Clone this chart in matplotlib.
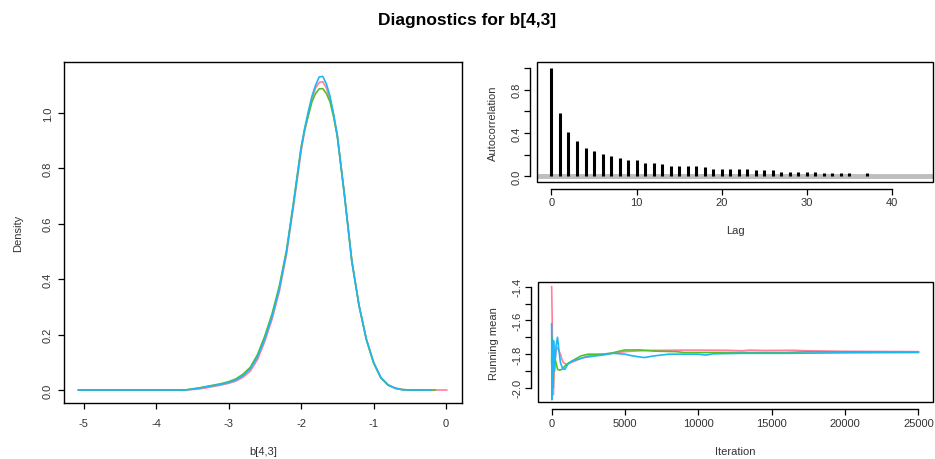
import numpy as np
import matplotlib
matplotlib.use("Agg")
import matplotlib.pyplot as plt
from matplotlib.patches import Rectangle

plt.rcParams['font.family'] = ['Liberation Sans', 'DejaVu Sans']
plt.rcParams['font.size'] = 8
plt.rcParams['axes.unicode_minus'] = False

# ---- data ----
chain_cols = ['#FF7FA0', '#55C022', '#1EB6F5']  # pink, green, blue

# density curves (x grid shared in the middle, own end points)
dens_x = [-5.07, -3.6, -3.5, -3.4, -3.3, -3.2, -3.1, -3.0, -2.9, -2.8, -2.7, -2.6, -2.5, -2.4,
          -2.3, -2.2, -2.1, -2.0, -1.95, -1.9, -1.85, -1.8, -1.75, -1.7, -1.65, -1.6,
          -1.55, -1.5, -1.4, -1.3, -1.2, -1.1, -1.0, -0.9, -0.8, -0.7, -0.6, -0.5]
dens_pink = [0, 0, 0.002, 0.004, 0.008, 0.013, 0.018, 0.024, 0.032, 0.046, 0.068, 0.110, 0.175, 0.255,
             0.355, 0.490, 0.670, 0.860, 0.935, 0.995, 1.050, 1.090, 1.110, 1.113, 1.090, 1.050,
             0.990, 0.920, 0.705, 0.470, 0.305, 0.185, 0.100, 0.046, 0.019, 0.007, 0.002, 0.0]
dens_green = [0, 0, 0.004, 0.008, 0.013, 0.018, 0.023, 0.030, 0.040, 0.057, 0.082, 0.128, 0.195, 0.275,
              0.375, 0.505, 0.685, 0.875, 0.940, 0.990, 1.040, 1.070, 1.087, 1.088, 1.070, 1.040,
              0.985, 0.915, 0.700, 0.465, 0.305, 0.182, 0.098, 0.044, 0.018, 0.006, 0.001, 0.0]
dens_blue = [0, 0, 0.003, 0.007, 0.012, 0.016, 0.021, 0.027, 0.036, 0.052, 0.076, 0.120, 0.185, 0.265,
             0.365, 0.500, 0.680, 0.870, 0.945, 1.005, 1.060, 1.100, 1.130, 1.132, 1.105, 1.060,
             0.995, 0.920, 0.700, 0.465, 0.305, 0.185, 0.100, 0.045, 0.018, 0.006, 0.001, 0.0]
dens_end = [0.01, -0.15, -0.22]  # last x where each chain's curve ends (pink, green, blue)

# autocorrelation
acf_lag = list(range(38))
acf_val = [1.0, 0.58, 0.406, 0.323, 0.258, 0.231, 0.206, 0.191, 0.166, 0.151,
           0.151, 0.126, 0.123, 0.111, 0.098, 0.098, 0.098, 0.098, 0.083, 0.071,
           0.071, 0.071, 0.071, 0.071, 0.058, 0.058, 0.058, 0.043, 0.043, 0.043,
           0.043, 0.043, 0.034, 0.034, 0.034, 0.034, 0.0, 0.03]

# running means
rm_pink_it = [0, 40, 80, 120, 160, 220, 300, 400, 500, 600, 700, 800, 1000, 1300, 1600, 2000,
              2500, 3000, 3500, 4000, 4500, 5000, 6000, 7000, 8000, 9000, 10000, 12000, 13000,
              13500, 14500, 16500, 17500, 20000, 25000]
rm_pink = [-1.40, -1.60, -2.02, -2.04, -1.92, -1.85, -1.78, -1.76, -1.78, -1.80, -1.83, -1.85,
           -1.86, -1.85, -1.84, -1.825, -1.81, -1.805, -1.80, -1.795, -1.79, -1.785, -1.78,
           -1.777, -1.777, -1.776, -1.776, -1.777, -1.78, -1.776, -1.778, -1.777, -1.78,
           -1.783, -1.785]
rm_green_it = [0, 30, 70, 110, 150, 200, 300, 400, 550, 700, 900, 1200, 1600, 2000, 2500, 3000,
               3500, 4000, 4500, 5000, 6000, 6500, 7000, 8500, 9000, 12000, 16000, 17300, 20000,
               25000]
rm_green = [-1.85, -1.70, -1.95, -2.00, -1.80, -1.82, -1.85, -1.89, -1.895, -1.89, -1.87, -1.85,
            -1.83, -1.81, -1.80, -1.80, -1.80, -1.795, -1.785, -1.775, -1.775, -1.778, -1.782,
            -1.785, -1.79, -1.79, -1.79, -1.786, -1.786, -1.788]
rm_blue_it = [0, 20, 50, 90, 130, 200, 300, 400, 500, 600, 750, 900, 1100, 1400, 1800, 2200,
              3000, 3500, 4200, 5000, 5500, 6300, 7000, 8000, 9000, 10000, 10500, 11000, 13000,
              16000, 20000, 25000]
rm_blue = [-1.62, -2.07, -1.80, -1.95, -1.72, -1.90, -1.75, -1.70, -1.78, -1.85, -1.885, -1.89,
           -1.86, -1.84, -1.83, -1.82, -1.81, -1.805, -1.795, -1.80, -1.81, -1.82, -1.81, -1.80,
           -1.80, -1.80, -1.805, -1.798, -1.795, -1.795, -1.792, -1.79]

txt = '#333333'


def r_box(ax, offset=0, xpad=2, ypad=2):
    # R style: full box, axes lines optionally pushed outward
    for s in ax.spines.values():
        s.set_linewidth(1.0)
    if offset:
        for side in ['top', 'right']:
            ax.spines[side].set_visible(False)
        ax.spines['left'].set_position(('outward', offset))
        ax.spines['bottom'].set_position(('outward', offset))
        ax.add_patch(Rectangle((0, 0), 1, 1, transform=ax.transAxes, fill=False,
                               lw=1.0, ec='black', clip_on=False, zorder=5))
    ax.tick_params(direction='out', length=4, width=0.9, colors='black',
                   labelcolor=txt, labelsize=8)
    ax.tick_params(axis='x', pad=xpad)
    ax.tick_params(axis='y', pad=ypad)
    for lab in ax.get_yticklabels():
        lab.set_rotation(90)
        lab.set_va('center')


fig = plt.figure(figsize=(9.35, 4.6), dpi=100)
fig.text(0.5, 0.955, 'Diagnostics for b[4,3]', ha='center', va='center',
         fontsize=12.5, fontweight='bold')

# ---- density ----
ax1 = fig.add_axes([0.0684, 0.1217, 0.4257, 0.7413])
for col, d, xe in zip(chain_cols, [dens_pink, dens_green, dens_blue], dens_end):
    xs = [v for v in dens_x if v < xe] + [xe]
    ys = list(d[:len(xs) - 1]) + [0.0]
    ax1.plot(xs, ys, color=col, lw=1.2)
ax1.set_xlim(-5.27, 0.22)
ax1.set_ylim(-0.047, 1.184)
ax1.set_xticks([-5, -4, -3, -2, -1, 0])
ax1.set_yticks([0, 0.2, 0.4, 0.6, 0.8, 1.0])
ax1.set_yticklabels(['0.0', '0.2', '0.4', '0.6', '0.8', '1.0'])
ax1.set_xlabel('b[4,3]', color=txt, labelpad=13)
ax1.set_ylabel('Density', color=txt, labelpad=14)
r_box(ax1, xpad=7, ypad=4)

# ---- autocorrelation ----
ax2 = fig.add_axes([0.5743, 0.6022, 0.4235, 0.2609])
ax2.axhline(0, color='#BEBEBE', lw=3.5, zorder=1)
ax2.vlines(acf_lag, 0, acf_val, color='black', lw=2.2, zorder=2)
ax2.set_xlim(-1.7, 44.8)
ax2.set_ylim(-0.053, 1.055)
ax2.set_xticks([0, 10, 20, 30, 40])
ax2.set_yticks([0, 0.2, 0.4, 0.6, 0.8, 1.0])
ax2.set_yticklabels(['0.0', '', '0.4', '', '0.8', ''])
ax2.spines['left'].set_bounds(0, 1.0)
ax2.spines['bottom'].set_bounds(0, 40)
ax2.set_xlabel('Lag', color=txt, labelpad=13)
ax2.set_ylabel('Autocorrelation', color=txt, labelpad=10)
r_box(ax2, offset=5)

# ---- running mean ----
ax3 = fig.add_axes([0.5754, 0.1233, 0.4225, 0.2609])
for col, it, v in zip(chain_cols, [rm_pink_it, rm_green_it, rm_blue_it], [rm_pink, rm_green, rm_blue]):
    ax3.plot(it, v, color=col, lw=1.2)
ax3.set_xlim(-930, 26000)
ax3.set_ylim(-2.085, -1.374)
ax3.set_xticks([0, 5000, 10000, 15000, 20000, 25000])
ax3.set_yticks([-2.0, -1.9, -1.8, -1.7, -1.6, -1.5, -1.4])
ax3.set_yticklabels(['-2.0', '', '-1.8', '', '-1.6', '', '-1.4'])
ax3.spines['left'].set_bounds(-2.0, -1.4)
ax3.spines['bottom'].set_bounds(0, 25000)
ax3.set_xlabel('Iteration', color=txt, labelpad=13)
ax3.set_ylabel('Running mean', color=txt, labelpad=10)
r_box(ax3, offset=5)

fig.savefig('out.png', dpi=100)
